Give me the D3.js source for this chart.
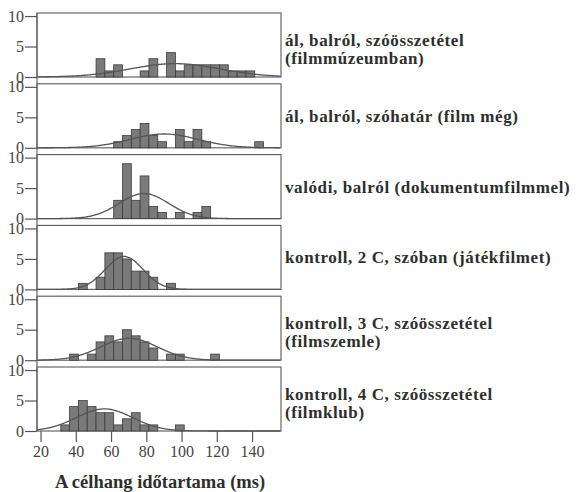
<!DOCTYPE html>
<html lang="hu">
<head>
<meta charset="utf-8">
<style>
  body { margin: 0; background: #fff; }
  svg { display: block; }
  .tick-label { font-family: "Liberation Serif", "DejaVu Serif", serif; font-size: 16px; fill: #444; }
  .panel-label { font-family: "Liberation Serif", serif; font-size: 17px; font-weight: bold; fill: #2e2e2e; letter-spacing: 0.6px; }
  .axis-title { font-family: "Liberation Serif", serif; font-size: 18.5px; font-weight: bold; fill: #2e2e2e; }
</style>
</head>
<body>
<svg width="580" height="492"></svg>
<script src="https://cdnjs.cloudflare.com/ajax/libs/d3/7.8.5/d3.min.js"></script>
<script>
// panel labels (one or two lines each)
var panelLabels = [
  ["ál, balról, szóösszetétel", "(filmmúzeumban)"],
  ["ál, balról, szóhatár (film még)"],
  ["valódi, balról (dokumentumfilmmel)"],
  ["kontroll, 2 C, szóban (játékfilmet)"],
  ["kontroll, 3 C, szóösszetétel", "(filmszemle)"],
  ["kontroll, 4 C, szóösszetétel", "(filmklub)"]
];

// left edge (ms) of the first bin in each panel, bins are 5 ms wide
var binStarts = [51.5, 61.5, 61.5, 41.5, 36.5, 31.5];
var binWidth = 5;

// counts per bin
var counts = [
  [3, 1, 2, 0, 0, 1, 3, 0, 4, 1, 2, 2, 2, 2, 2, 1, 1, 1],
  [1, 2, 3, 4, 2, 1, 0, 3, 1, 3, 1, 0, 0, 0, 0, 0, 1],
  [3, 9, 3, 7, 2, 1, 0, 1, 0, 1, 2],
  [1, 0, 2, 6, 6, 5, 3, 3, 2, 0, 1],
  [1, 0, 1, 3, 4, 3, 5, 4, 3, 2, 0, 1, 1, 0, 0, 0, 1],
  [1, 4, 5, 4, 3, 3, 1, 2, 3, 1, 1, 0, 0, 1]
];

var xTicks = [20, 40, 60, 80, 100, 120, 140];
var yTicks = [0, 5, 10];
var xTitle = "A célhang időtartama (ms)";

var svg = d3.select("svg");

var left = 37, right = 281,
    top0 = 13, panelStep = 70.8, panelH = 64;

var x = d3.scaleLinear().domain([18, 156.4]).range([left, right]);
var y = d3.scaleLinear().domain([0, 10.5]).range([panelH, 0]);

// continuous left axis line
svg.append("line")
  .attr("x1", left).attr("x2", left)
  .attr("y1", top0).attr("y2", top0 + 5 * panelStep + panelH)
  .attr("stroke", "#666").attr("stroke-width", 1.2);

counts.forEach(function (c, i) {
  var g = svg.append("g")
    .attr("transform", "translate(0," + (top0 + i * panelStep) + ")");

  var bins = c.map(function (n, k) {
    return { x0: binStarts[i] + k * binWidth, n: n };
  });

  // frame
  g.append("rect")
    .attr("x", left).attr("y", 0)
    .attr("width", right - left).attr("height", panelH)
    .attr("fill", "none").attr("stroke", "#666").attr("stroke-width", 1.2);

  // bars
  g.selectAll(".bar")
    .data(bins.filter(function (d) { return d.n > 0; }))
    .enter().append("rect")
    .attr("class", "bar")
    .attr("x", function (d) { return x(d.x0); })
    .attr("width", function (d) { return x(d.x0 + binWidth) - x(d.x0); })
    .attr("y", function (d) { return y(d.n); })
    .attr("height", function (d) { return y(0) - y(d.n); })
    .attr("fill", "#7a7a7a")
    .attr("stroke", "#3c3c3c")
    .attr("stroke-width", 0.8);

  // normal curve fitted to the histogram
  var N = d3.sum(bins, function (d) { return d.n; });
  var mean = d3.sum(bins, function (d) { return d.n * (d.x0 + binWidth / 2); }) / N;
  var varr = d3.sum(bins, function (d) {
    var m = d.x0 + binWidth / 2 - mean;
    return d.n * m * m;
  }) / (N - 1);
  var sd = Math.sqrt(varr);
  var curve = d3.range(18, 156.5, 0.5).map(function (v) {
    var z = (v - mean) / sd;
    return [v, N * binWidth * Math.exp(-0.5 * z * z) / (sd * Math.sqrt(2 * Math.PI))];
  });
  g.append("path")
    .datum(curve)
    .attr("d", d3.line()
      .x(function (d) { return x(d[0]); })
      .y(function (d) { return y(d[1]); })
      .curve(d3.curveBasis))
    .attr("fill", "none")
    .attr("stroke", "#555")
    .attr("stroke-width", 1.3);

  // y axis
  var yAxis = g.append("g")
    .attr("transform", "translate(" + left + ",0)")
    .call(d3.axisLeft(y).tickValues(yTicks).tickSize(12).tickPadding(1).tickFormat(d3.format("d")));
  yAxis.select(".domain").remove();
  yAxis.selectAll(".tick line").attr("stroke", "#555").attr("stroke-width", 1.2);
  yAxis.selectAll("text").attr("class", "tick-label").attr("font-size", null).attr("font-family", null).attr("fill", null);

  // panel label
  var lines = panelLabels[i];
  var mid = panelH / 2;
  var t = g.append("text").attr("class", "panel-label");
  lines.forEach(function (s, j) {
    t.append("tspan")
      .attr("x", 285)
      .attr("y", lines.length === 1 ? mid + 6 : mid + 1 + j * 18)
      .text(s);
  });
});

// x axis under the last panel
var xAxis = svg.append("g")
  .attr("transform", "translate(0," + (top0 + 5 * panelStep + panelH) + ")")
  .call(d3.axisBottom(x).tickValues(xTicks).tickSize(11).tickPadding(4));
xAxis.select(".domain").remove();
xAxis.selectAll(".tick line").attr("stroke", "#555").attr("stroke-width", 1.2);
xAxis.selectAll("text").attr("class", "tick-label").attr("font-size", null).attr("font-family", null).attr("fill", null);

svg.append("text")
  .attr("class", "axis-title")
  .attr("x", 160).attr("y", 488)
  .attr("text-anchor", "middle")
  .text(xTitle);
</script>
</body>
</html>
